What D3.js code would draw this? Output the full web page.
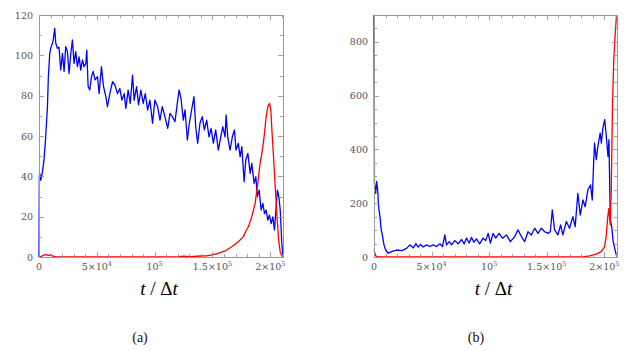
<!DOCTYPE html>
<html>
<head>
<meta charset="utf-8">
<script src="https://cdn.jsdelivr.net/npm/d3@7"></script>
<style>
  body { margin: 0; background: #fff; }
  svg { display: block; }
</style>
</head>
<body>
<svg id="chart" width="636" height="351"></svg>
<script>
// x axis (shared by both panels)
var xMax = 2.11e5;
var xMajor = [0, 5e4, 1e5, 1.5e5, 2e5];
var xMajorLabels = [["0", ""], ["5×10", "4"], ["10", "5"], ["1.5×10", "5"], ["2×10", "5"]];

// y axes
var yMaxA = 120;
var yMajorA = [0, 20, 40, 60, 80, 100, 120];
var yMaxB = 900;
var yMajorB = [0, 200, 400, 600, 800];

// panel (a), [t, value]
var blueA = [[0,0],[300,40],[600,41.5],[1500,38],[2900,42],[4300,48],[5800,59.6],[7300,74.5],[8100,89.4],[9300,101],
  [10100,103.5],[12100,106.8],[13600,113.4],[14500,106],[15900,103.5],[17300,104],[18800,92.7],[20300,101],[21700,92],
  [23100,104.3],[24600,101.8],[26000,91],[27500,101],[28900,107.6],[30300,96],[31800,101.8],[33200,94.4],[34700,99.2],
  [36100,92.7],[37600,97.7],[39000,94.4],[40500,96],[41300,102.6],[42500,84.5],[43900,82.8],[45400,89.4],[46800,92],
  [48500,87.8],[50600,89.4],[52000,81.1],[54000,94.4],[55800,84.5],[57800,79.5],[59200,74.5],[61300,81.1],[63600,86.9],
  [65600,85.3],[67900,81],[69900,83.6],[71700,77.8],[73700,81],[75100,73.7],[77100,82.8],[78900,76.2],[80900,90.2],
  [82300,77.8],[84400,84.5],[86100,75.4],[88100,82.8],[90100,76.2],[91900,81],[93900,72.9],[95900,77.8],[98200,66.3],
  [100200,77.8],[102600,74.5],[104600,67.9],[106600,74.5],[108900,69.6],[111300,63.8],[113300,71.2],[115300,69.6],
  [117600,67.1],[119600,76.2],[121100,82.8],[122800,78.7],[124800,67.9],[126300,72.9],[128300,58],[130000,66.3],
  [132000,72.9],[134000,79.5],[135500,64.6],[137200,56.4],[139200,66.3],[141200,69.6],[143000,63],[145000,67.9],
  [147000,59.6],[148800,63.8],[150800,56.4],[152800,63],[155100,53],[157200,59.6],[158900,64.6],[160900,59.6],
  [161800,70.4],[163200,59.6],[165200,53],[167200,59.6],[169000,63],[170400,53],[172400,56.4],[173900,49.7],
  [175400,54.7],[177400,37.3],[178800,48.1],[180600,51.4],[182600,41.5],[184000,46.4],[186000,36.5],[187500,39.8],
  [188900,29.9],[190400,33.2],[192100,23.3],[193600,26.6],[195000,21.5],[196400,23.3],[197900,18.3],[199300,20.8],
  [200800,16.6],[202200,19.9],[203600,13.4],[205100,24.9],[206200,33.2],[207400,29.9],[208600,23.3],[210000,6.8],[210900,1]];

var redA = [[0,0],[2000,0.3],[4000,0.9],[6000,1.2],[8000,0.8],[10000,1.1],[12000,0.4],[15000,0.1],[20000,0],
  [120000,0],[125000,0.4],[130000,0.2],[140000,0.5],[145000,0.6],[149400,1],[155100,1.8],[160900,3],[166700,5.1],
  [172400,7.6],[176800,10.1],[179000,13],[181100,15],[184000,20],[186900,26.6],[189200,36.5],[191200,46.5],[193200,53],
  [195000,61.3],[196400,69.6],[197900,74.5],[199300,76.2],[200500,72.9],[201400,63],[202800,49.7],[204300,34.9],
  [205800,20],[207200,8.4],[208600,2.5],[210500,0]];

// panel (b), [t, value]
var blueB = [[0,900],[400,275],[1500,237],[2300,281],[3200,249],[4000,187],[5200,150],[6300,101],[7500,76],[8700,45],
  [10100,26],[12400,14],[15300,20],[19600,26],[24000,24],[28300,32],[31200,45],[34100,34],[36400,50],[38400,37],
  [40400,47],[42700,37],[45600,45],[48500,39],[51400,45],[54300,39],[57200,49],[59500,39],[61500,82],[63000,45],
  [65300,57],[67300,45],[70200,61],[73100,49],[76000,65],[78300,49],[80300,70],[82600,52],[84700,73],[86700,55],
  [89000,67],[91800,49],[94700,70],[97000,61],[99100,88],[101100,52],[103400,88],[105700,70],[108600,88],[111500,70],
  [115000,82],[118400,57],[122200,76],[125000,101],[128000,76],[130800,57],[133700,94],[136600,82],[139500,107],
  [142400,88],[145300,107],[148200,94],[151000,88],[153100,94],[154800,175],[156800,101],[159700,82],[162000,119],
  [164000,82],[167000,132],[169800,107],[172700,150],[174700,113],[177000,237],[179100,156],[181400,212],[183400,187],
  [185700,250],[188000,268],[189500,212],[190600,337],[191500,424],[193000,362],[194400,412],[196400,461],[197400,424],
  [198800,480],[200300,511],[201700,449],[203200,374],[204000,436],[205200,138],[206400,113],[207500,63],[208700,38],[210400,7]];

var redB = [[0,25],[1500,5],[3000,0],[181400,0],[187200,4],[193000,11],[197300,20],[200200,38],[201600,76],
  [203000,150],[203900,181],[205100,120],[206000,250],[207100,567],[208200,734],[209400,827],[210600,900]];

var svg = d3.select('#chart');
var plotTop = 15, plotBottom = 257;

function drawPanel(opt) {
    var g = svg.append('g');

    var x = d3.scaleLinear().domain([0, xMax]).range([opt.left, opt.right]);
    var y = d3.scaleLinear().domain([0, opt.yMax]).range([plotBottom, plotTop]);

    var line = d3.line().x(d => x(d[0])).y(d => y(d[1]));

    // data lines
    g.append('path').datum(opt.blue)
        .attr('fill', 'none').attr('stroke', '#0000ff').attr('stroke-width', 1.3)
        .attr('stroke-linejoin', 'round').attr('d', line);
    g.append('path').datum(opt.red)
        .attr('fill', 'none').attr('stroke', '#ff0000').attr('stroke-width', 1.3)
        .attr('stroke-linejoin', 'round').attr('d', line);

    // inward ticks on all sides
    var xMinor = d3.range(0, xMax, 1e4);
    var yMinor = d3.range(0, opt.yMax + 1, opt.yMinorStep);
    var tickColor = '#8a8a8a';

    g.selectAll('.xt').data(xMinor).enter().append('path')
        .attr('stroke', tickColor).attr('stroke-width', 0.8)
        .attr('d', d => {
            var len = xMajor.includes(d) ? 5 : 3;
            var px = Math.round(x(d)) + 0.5;
            return 'M' + px + ',' + plotBottom + 'v' + (-len) + 'M' + px + ',' + plotTop + 'v' + len;
        });
    g.selectAll('.yt').data(yMinor).enter().append('path')
        .attr('stroke', tickColor).attr('stroke-width', 0.8)
        .attr('d', d => {
            var len = opt.yMajor.includes(d) ? 5 : 3;
            var py = Math.round(y(d)) + 0.5;
            return 'M' + opt.left + ',' + py + 'h' + len + 'M' + opt.right + ',' + py + 'h' + (-len);
        });

    // frame
    g.append('rect')
        .attr('x', opt.left + 0.5).attr('y', plotTop + 0.5)
        .attr('width', opt.right - opt.left).attr('height', plotBottom - plotTop)
        .attr('fill', 'none').attr('stroke', '#999').attr('stroke-width', 1);

    // y tick labels
    g.selectAll('.yl').data(opt.yMajor).enter().append('text')
        .attr('x', opt.left - 6).attr('y', d => y(d) + 3.5)
        .attr('text-anchor', 'end')
        .style('font-family', 'DejaVu Serif').style('font-size', '9.5px').style('fill', '#555')
        .text(d => d);

    // x tick labels with superscripts
    var xl = g.selectAll('.xl').data(xMajor).enter().append('text')
        .attr('x', d => x(d)).attr('y', 270)
        .attr('text-anchor', 'middle')
        .style('font-family', 'DejaVu Serif').style('font-size', '9.5px').style('fill', '#555');
    xl.append('tspan').text((d, i) => xMajorLabels[i][0]);
    xl.append('tspan').attr('dy', -4).style('font-size', '6.5px').text((d, i) => xMajorLabels[i][1]);

    // axis title
    var title = g.append('text')
        .attr('x', (opt.left + opt.right) / 2 - 2).attr('y', 295)
        .attr('text-anchor', 'middle')
        .style('font-family', 'Liberation Serif').style('font-size', '19px').style('fill', '#000');
    title.append('tspan').style('font-style', 'italic').text('t');
    title.append('tspan').text(' / Δ');
    title.append('tspan').style('font-style', 'italic').text('t');

    // caption
    g.append('text')
        .attr('x', opt.captionX).attr('y', 342)
        .attr('text-anchor', 'middle')
        .style('font-family', 'Liberation Serif').style('font-size', '14px').style('fill', '#111')
        .text(opt.caption);
}

drawPanel({left: 39, right: 283, yMax: yMaxA, yMajor: yMajorA, yMinorStep: 10,
           blue: blueA, red: redA, caption: '(a)', captionX: 140});
drawPanel({left: 374, right: 617, yMax: yMaxB, yMajor: yMajorB, yMinorStep: 50,
           blue: blueB, red: redB, caption: '(b)', captionX: 476});
</script>
</body>
</html>
